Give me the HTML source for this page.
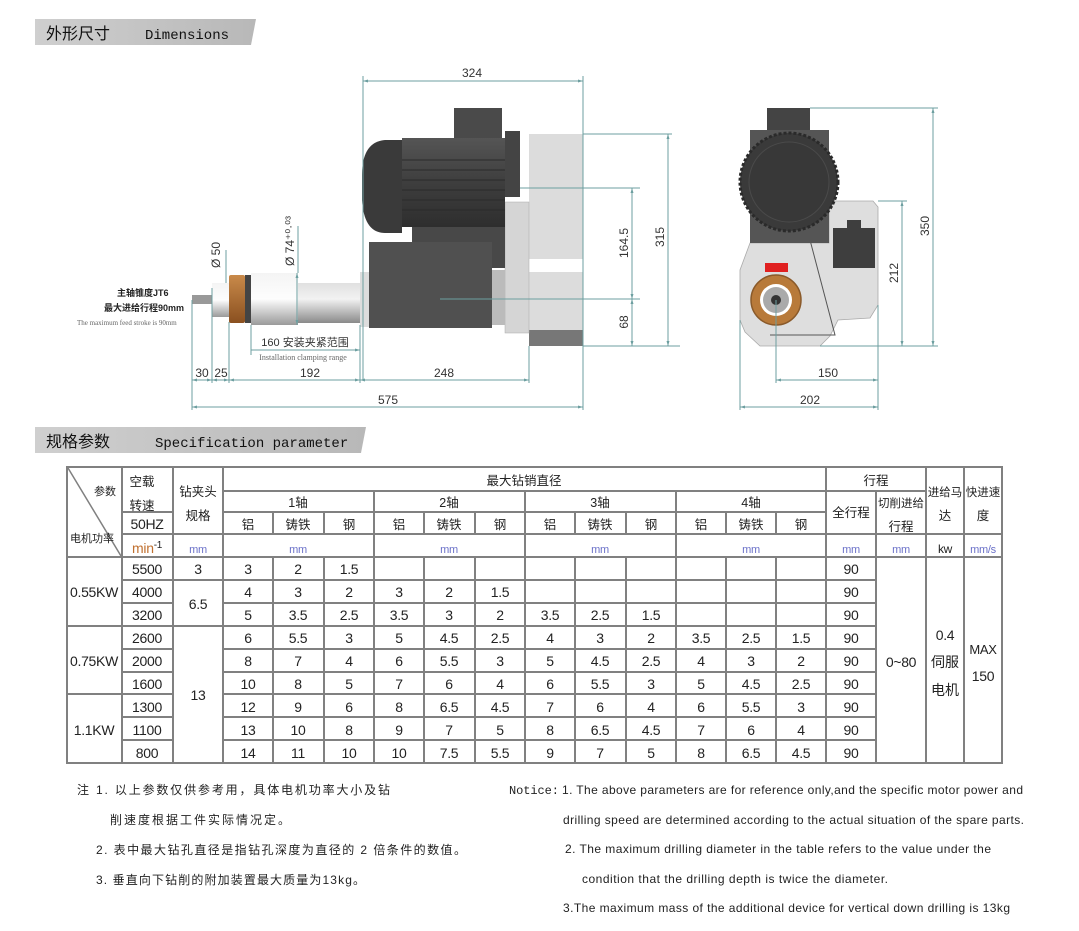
<!DOCTYPE html>
<html><head><meta charset="utf-8">
<style>
html,body{margin:0;padding:0;background:#fff;}
svg{display:block;}
.t{font-family:"Liberation Sans Narrow","Liberation Sans","Noto Sans CJK SC",sans-serif;font-size:14px;fill:#222;text-anchor:middle;letter-spacing:-0.3px;}
.h{font-family:"Liberation Sans","Noto Sans CJK SC",sans-serif;font-size:12.5px;fill:#222;text-anchor:middle;}
.d{font-family:"Liberation Sans Narrow","Liberation Sans",sans-serif;font-size:12px;fill:#333;text-anchor:middle;}
.n{font-family:"Liberation Sans","Noto Sans CJK SC",sans-serif;font-size:12px;fill:#222;}
.u{fill:#6a70c8;}
.dim{stroke:#6d9fa0;stroke-width:1;fill:none;}
.g{stroke:#808080;stroke-width:2;}
</style></head><body>
<svg width="1079" height="931" viewBox="0 0 1079 931" xmlns="http://www.w3.org/2000/svg">
<defs>
<linearGradient id="ban" x1="0" x2="1"><stop offset="0" stop-color="#cfcfcf"/><stop offset="1" stop-color="#b8b8b8"/></linearGradient>
<linearGradient id="cyl" x1="0" x2="0" y1="0" y2="1"><stop offset="0" stop-color="#f4f4f4"/><stop offset="0.5" stop-color="#fdfdfd"/><stop offset="1" stop-color="#9a9a9a"/></linearGradient>
<linearGradient id="rod" x1="0" x2="0" y1="0" y2="1"><stop offset="0" stop-color="#e0e0e0"/><stop offset="0.4" stop-color="#f2f2f2"/><stop offset="1" stop-color="#8a8a8a"/></linearGradient>
<linearGradient id="mot" x1="0" x2="0" y1="0" y2="1"><stop offset="0" stop-color="#555"/><stop offset="0.5" stop-color="#3e3e3e"/><stop offset="1" stop-color="#2e2e2e"/></linearGradient>
<linearGradient id="org" x1="0" x2="0" y1="0" y2="1"><stop offset="0" stop-color="#c98a4a"/><stop offset="1" stop-color="#8a5020"/></linearGradient>
<marker id="a" viewBox="0 0 10 10" refX="10" refY="5" markerWidth="7" markerHeight="5" orient="auto-start-reverse"><path d="M0,2 L10,5 L0,8z" fill="#6d9fa0"/></marker>
</defs>

<polygon points="35,19 256,19 251,45 35,45" fill="url(#ban)"/>
<text x="46" y="39" class="n" style="font-size:16px;fill:#111">外形尺寸</text>
<text x="145" y="39" class="n" style="font-family:'Liberation Mono',monospace;font-size:14px;fill:#111">Dimensions</text>
<polygon points="35,427 366,427 361,453 35,453" fill="url(#ban)"/>
<text x="46" y="447" class="n" style="font-size:16px;fill:#111">规格参数</text>
<text x="155" y="447" class="n" style="font-family:'Liberation Mono',monospace;font-size:14px;fill:#111">Specification parameter</text>

<rect x="529" y="134" width="54" height="212" fill="#dcdcdc"/>
<rect x="529" y="330" width="54" height="16" fill="#777"/>
<rect x="529" y="259" width="54" height="13" fill="#fff"/>
<rect x="505" y="202" width="24" height="131" fill="#d5d5d5" stroke="#aaa" stroke-width="0.5"/>
<rect x="505" y="131" width="15" height="66" fill="#444"/>
<rect x="454" y="108" width="48" height="32" fill="#4a4a4a"/>
<path d="M402,140 L385,140 Q362,142 362,175 L362,200 Q364,233 385,233 L402,233z" fill="#3a3a3a"/>
<rect x="402" y="138" width="103" height="89" fill="url(#mot)"/>
<g stroke="#2a2a2a" stroke-width="1"><line x1="402" y1="160" x2="505" y2="160"/><line x1="402" y1="170" x2="505" y2="170"/><line x1="402" y1="180" x2="505" y2="180"/><line x1="402" y1="190" x2="505" y2="190"/><line x1="402" y1="200" x2="505" y2="200"/><line x1="402" y1="210" x2="505" y2="210"/></g>
<rect x="412" y="227" width="93" height="41" fill="#484848"/>
<rect x="369" y="242" width="123" height="86" fill="#505050"/>
<rect x="492" y="270" width="13" height="55" fill="#bbb"/>
<rect x="360" y="272" width="9" height="55" fill="#ddd"/>
<rect x="298" y="283" width="62" height="40" fill="url(#rod)"/>
<rect x="251" y="273" width="47" height="52" fill="url(#cyl)"/>
<rect x="245" y="275" width="6" height="48" fill="#444"/>
<rect x="229" y="275" width="16" height="48" rx="2" fill="url(#org)"/>
<rect x="212" y="283" width="17" height="34" fill="url(#cyl)"/>
<rect x="192" y="295" width="20" height="9" fill="#999"/>

<line class="dim" x1="363" y1="81" x2="583" y2="81" marker-start="url(#a)" marker-end="url(#a)"/>
<text x="472" y="77" class="d">324</text>
<line class="dim" x1="363" y1="76" x2="363" y2="380"/>
<line class="dim" x1="583" y1="76" x2="583" y2="410"/>
<line class="dim" x1="192" y1="300" x2="192" y2="410"/>
<line class="dim" x1="212" y1="288" x2="212" y2="383"/>
<line class="dim" x1="229" y1="322" x2="229" y2="383"/>
<line class="dim" x1="251" y1="325" x2="251" y2="355"/>
<line class="dim" x1="360" y1="325" x2="360" y2="383"/>
<line class="dim" x1="529" y1="346" x2="529" y2="383"/>
<line class="dim" x1="192" y1="380" x2="212" y2="380" marker-start="url(#a)" marker-end="url(#a)"/>
<line class="dim" x1="212" y1="380" x2="229" y2="380" marker-start="url(#a)" marker-end="url(#a)"/>
<line class="dim" x1="229" y1="380" x2="360" y2="380" marker-start="url(#a)" marker-end="url(#a)"/>
<line class="dim" x1="360" y1="380" x2="529" y2="380" marker-start="url(#a)" marker-end="url(#a)"/>
<line class="dim" x1="192" y1="407" x2="583" y2="407" marker-start="url(#a)" marker-end="url(#a)"/>
<text x="202" y="377" class="d">30</text><text x="221" y="377" class="d">25</text>
<text x="310" y="377" class="d">192</text><text x="444" y="377" class="d">248</text>
<text x="388" y="404" class="d">575</text>
<line class="dim" x1="251" y1="350" x2="360" y2="350" marker-end="url(#a)"/>
<text x="305" y="346" class="d" style="font-size:11px">160 安装夹紧范围</text>
<text x="303" y="360" class="d" style="font-size:8px;fill:#666;font-family:'Liberation Serif',serif">Installation clamping range</text>
<line class="dim" x1="297" y1="273" x2="297" y2="325" marker-start="url(#a)" marker-end="url(#a)"/>
<line class="dim" x1="298" y1="226" x2="298" y2="273"/>
<line class="dim" x1="226" y1="250" x2="226" y2="283"/>
<text transform="translate(220,268) rotate(-90)" class="d" style="text-anchor:start">Ø 50</text>
<text transform="translate(294,266) rotate(-90)" class="d" style="text-anchor:start">Ø 74⁺⁰·⁰³</text>
<text x="117" y="296" class="n" style="font-size:9px;font-weight:bold">主轴锥度JT6</text>
<text x="104" y="311" class="n" style="font-size:9px;font-weight:bold">最大进给行程90mm</text>
<text x="77" y="325" class="n" style="font-size:7px;fill:#666;font-family:'Liberation Serif',serif">The maximum feed stroke is 90mm</text>
<line class="dim" x1="520" y1="188" x2="640" y2="188"/>
<line class="dim" x1="440" y1="299" x2="640" y2="299"/>
<line class="dim" x1="583" y1="346" x2="680" y2="346"/>
<line class="dim" x1="583" y1="134" x2="672" y2="134"/>
<line class="dim" x1="632" y1="188" x2="632" y2="299" marker-start="url(#a)" marker-end="url(#a)"/>
<line class="dim" x1="632" y1="299" x2="632" y2="346" marker-start="url(#a)" marker-end="url(#a)"/>
<line class="dim" x1="668" y1="134" x2="668" y2="346" marker-start="url(#a)" marker-end="url(#a)"/>
<text transform="translate(628,243) rotate(-90)" class="d">164.5</text>
<text transform="translate(628,322) rotate(-90)" class="d">68</text>
<text transform="translate(664,237) rotate(-90)" class="d">315</text>

<path d="M829,201 L873,201 L878,207 L878,305 L870,318 L838,320 L830,336 L820,346 L760,346 L745,332 L740,320 L740,270 L750,243 L829,243z" fill="#dedede" stroke="#aaa" stroke-width="0.8"/>
<rect x="767" y="108" width="43" height="30" fill="#444"/>
<rect x="750" y="130" width="79" height="113" fill="#555"/>
<circle cx="789" cy="182" r="49" fill="#3a3a3a" stroke="#2a2a2a" stroke-width="3" stroke-dasharray="3 2"/>
<circle cx="789" cy="182" r="40" fill="#383838" stroke="#4a4a4a" stroke-width="1"/>
<rect x="833" y="228" width="42" height="40" fill="#3e3e3e"/>
<rect x="847" y="220" width="14" height="9" fill="#3e3e3e"/>
<path d="M810,240 L835,335 L770,335" stroke="#555" stroke-width="1" fill="none"/>
<rect x="765" y="263" width="23" height="9" fill="#e02020"/>
<circle cx="776" cy="300" r="25" fill="#b87a3a" stroke="#8a5a2a" stroke-width="1.5"/>
<circle cx="776" cy="300" r="16" fill="#fff"/>
<circle cx="776" cy="300" r="13" fill="#aaa"/>
<circle cx="776" cy="300" r="5" fill="#333"/>
<line class="dim" x1="810" y1="108" x2="938" y2="108"/>
<line class="dim" x1="878" y1="201" x2="907" y2="201"/>
<line class="dim" x1="820" y1="346" x2="938" y2="346"/>
<line class="dim" x1="933" y1="108" x2="933" y2="346" marker-start="url(#a)" marker-end="url(#a)"/>
<line class="dim" x1="902" y1="201" x2="902" y2="346" marker-start="url(#a)" marker-end="url(#a)"/>
<text transform="translate(929,226) rotate(-90)" class="d">350</text>
<text transform="translate(898,273) rotate(-90)" class="d">212</text>
<line class="dim" x1="740" y1="320" x2="740" y2="410"/>
<line class="dim" x1="776" y1="300" x2="776" y2="383"/>
<line class="dim" x1="878" y1="305" x2="878" y2="410"/>
<line class="dim" x1="776" y1="380" x2="878" y2="380" marker-start="url(#a)" marker-end="url(#a)"/>
<line class="dim" x1="740" y1="407" x2="878" y2="407" marker-start="url(#a)" marker-end="url(#a)"/>
<text x="828" y="377" class="d">150</text>
<text x="810" y="404" class="d">202</text>

<g class="g">
<line x1="66" y1="467" x2="1003" y2="467"/>
<line x1="66" y1="763" x2="1003" y2="763"/>
<line x1="66" y1="557" x2="1003" y2="557"/>
<line x1="223" y1="491" x2="926" y2="491"/>
<line x1="122" y1="512" x2="173" y2="512"/>
<line x1="223" y1="512" x2="826" y2="512"/>
<line x1="122" y1="534" x2="1002" y2="534"/>
<line x1="67" y1="467" x2="67" y2="763"/>
<line x1="122" y1="467" x2="122" y2="763"/>
<line x1="173" y1="467" x2="173" y2="763"/>
<line x1="223" y1="467" x2="223" y2="763"/>
<line x1="826" y1="467" x2="826" y2="763"/>
<line x1="926" y1="467" x2="926" y2="763"/>
<line x1="964" y1="467" x2="964" y2="763"/>
<line x1="1002" y1="467" x2="1002" y2="763"/>
<line x1="876" y1="491" x2="876" y2="763"/>
<line x1="374" y1="491" x2="374" y2="763"/>
<line x1="525" y1="491" x2="525" y2="763"/>
<line x1="676" y1="491" x2="676" y2="763"/>
</g>
<g class="g">
<path d="M273,512V534M324,512V534M424,512V534M475,512V534M575,512V534M626,512V534M726,512V534M776,512V534"/>
<path d="M273,557V763M324,557V763M424,557V763M475,557V763M575,557V763M626,557V763M726,557V763M776,557V763"/>
<path d="M122,580H173M223,580H876M122,603H173M223,603H876M122,626H876M67,626H122M122,649H173M223,649H876M122,672H173M223,672H876M67,694H173M223,694H876M122,717H173M223,717H876M122,740H173M223,740H876M173,580H223"/>
</g>
<line x1="68" y1="468" x2="121" y2="556" stroke="#808080" stroke-width="1.5"/>

<text x="105" y="495" class="h" style="font-size:11px">参数</text>
<text x="92" y="542" class="h" style="font-size:11px">电机功率</text>
<text x="142" y="486" class="h">空载</text>
<text x="142" y="510" class="h">转速</text>
<text x="147" y="529" class="t">50HZ</text>
<text x="147" y="553" class="t" style="fill:#c07030">min<tspan dy="-5" style="font-size:10px;fill:#222">-1</tspan></text>
<text x="198" y="496" class="h">钻夹头</text>
<text x="198" y="520" class="h">规格</text>
<text x="198" y="553" class="t u" style="font-size:11px">mm</text>
<text x="524" y="485" class="h">最大钻销直径</text>
<text x="298" y="507" class="h">1轴</text><text x="449" y="507" class="h">2轴</text><text x="600" y="507" class="h">3轴</text><text x="751" y="507" class="h">4轴</text>
<g class="h">
<text x="248" y="529">铝</text><text x="298" y="529">铸铁</text><text x="349" y="529">钢</text>
<text x="399" y="529">铝</text><text x="449" y="529">铸铁</text><text x="500" y="529">钢</text>
<text x="550" y="529">铝</text><text x="600" y="529">铸铁</text><text x="651" y="529">钢</text>
<text x="701" y="529">铝</text><text x="751" y="529">铸铁</text><text x="801" y="529">钢</text>
</g>
<g class="t u" style="font-size:11px">
<text x="298" y="553">mm</text><text x="449" y="553">mm</text><text x="600" y="553">mm</text><text x="751" y="553">mm</text>
<text x="851" y="553">mm</text><text x="901" y="553">mm</text><text x="983" y="553">mm/s</text>
</g>
<text x="945" y="553" class="t" style="font-size:12px">kw</text>
<text x="876" y="485" class="h">行程</text>
<text x="851" y="517" class="h">全行程</text>
<text x="901" y="507" class="h" style="font-size:11.5px">切削进给</text>
<text x="901" y="531" class="h">行程</text>
<text x="945" y="496" class="h" style="font-size:11.5px">进给马</text>
<text x="945" y="520" class="h">达</text>
<text x="983" y="496" class="h" style="font-size:11.5px">快进速</text>
<text x="983" y="520" class="h">度</text>

<g class="t">
<text x="94" y="597">0.55KW</text><text x="94" y="666">0.75KW</text><text x="94" y="735">1.1KW</text>
<text x="147" y="574">5500</text><text x="147" y="597">4000</text><text x="147" y="620">3200</text>
<text x="147" y="643">2600</text><text x="147" y="666">2000</text><text x="147" y="689">1600</text>
<text x="147" y="712">1300</text><text x="147" y="735">1100</text><text x="147" y="758">800</text>
<text x="198" y="574">3</text><text x="198" y="609">6.5</text><text x="198" y="700">13</text>
<text x="248" y="574">3</text><text x="298" y="574">2</text><text x="349" y="574">1.5</text>
<text x="248" y="597">4</text><text x="298" y="597">3</text><text x="349" y="597">2</text>
<text x="399" y="597">3</text><text x="449" y="597">2</text><text x="500" y="597">1.5</text>
<text x="248" y="620">5</text><text x="298" y="620">3.5</text><text x="349" y="620">2.5</text>
<text x="399" y="620">3.5</text><text x="449" y="620">3</text><text x="500" y="620">2</text>
<text x="550" y="620">3.5</text><text x="600" y="620">2.5</text><text x="651" y="620">1.5</text>
<text x="248" y="643">6</text><text x="298" y="643">5.5</text><text x="349" y="643">3</text>
<text x="399" y="643">5</text><text x="449" y="643">4.5</text><text x="500" y="643">2.5</text>
<text x="550" y="643">4</text><text x="600" y="643">3</text><text x="651" y="643">2</text>
<text x="701" y="643">3.5</text><text x="751" y="643">2.5</text><text x="801" y="643">1.5</text>
<text x="248" y="666">8</text><text x="298" y="666">7</text><text x="349" y="666">4</text>
<text x="399" y="666">6</text><text x="449" y="666">5.5</text><text x="500" y="666">3</text>
<text x="550" y="666">5</text><text x="600" y="666">4.5</text><text x="651" y="666">2.5</text>
<text x="701" y="666">4</text><text x="751" y="666">3</text><text x="801" y="666">2</text>
<text x="248" y="689">10</text><text x="298" y="689">8</text><text x="349" y="689">5</text>
<text x="399" y="689">7</text><text x="449" y="689">6</text><text x="500" y="689">4</text>
<text x="550" y="689">6</text><text x="600" y="689">5.5</text><text x="651" y="689">3</text>
<text x="701" y="689">5</text><text x="751" y="689">4.5</text><text x="801" y="689">2.5</text>
<text x="248" y="712">12</text><text x="298" y="712">9</text><text x="349" y="712">6</text>
<text x="399" y="712">8</text><text x="449" y="712">6.5</text><text x="500" y="712">4.5</text>
<text x="550" y="712">7</text><text x="600" y="712">6</text><text x="651" y="712">4</text>
<text x="701" y="712">6</text><text x="751" y="712">5.5</text><text x="801" y="712">3</text>
<text x="248" y="735">13</text><text x="298" y="735">10</text><text x="349" y="735">8</text>
<text x="399" y="735">9</text><text x="449" y="735">7</text><text x="500" y="735">5</text>
<text x="550" y="735">8</text><text x="600" y="735">6.5</text><text x="651" y="735">4.5</text>
<text x="701" y="735">7</text><text x="751" y="735">6</text><text x="801" y="735">4</text>
<text x="248" y="758">14</text><text x="298" y="758">11</text><text x="349" y="758">10</text>
<text x="399" y="758">10</text><text x="449" y="758">7.5</text><text x="500" y="758">5.5</text>
<text x="550" y="758">9</text><text x="600" y="758">7</text><text x="651" y="758">5</text>
<text x="701" y="758">8</text><text x="751" y="758">6.5</text><text x="801" y="758">4.5</text>
<text x="851" y="574">90</text><text x="851" y="597">90</text><text x="851" y="620">90</text>
<text x="851" y="643">90</text><text x="851" y="666">90</text><text x="851" y="689">90</text>
<text x="851" y="712">90</text><text x="851" y="735">90</text><text x="851" y="758">90</text>
<text x="901" y="667">0~80</text>
<text x="945" y="640">0.4</text>
<text x="983" y="654" style="font-size:13px">MAX</text>
<text x="983" y="681">150</text>
</g>
<text x="945" y="667" class="h" style="font-size:14px">伺服</text>
<text x="945" y="695" class="h" style="font-size:14px">电机</text>

<text x="77" y="794" class="n" textLength="313">注 1. 以上参数仅供参考用，具体电机功率大小及钻</text>
<text x="110" y="824" class="n" textLength="180">削速度根据工件实际情况定。</text>
<text x="96" y="854" class="n" textLength="370">2. 表中最大钻孔直径是指钻孔深度为直径的 2 倍条件的数值。</text>
<text x="96" y="884" class="n" textLength="269">3. 垂直向下钻削的附加装置最大质量为13kg。</text>
<text x="509" y="794" class="n" style="font-family:'Liberation Mono',monospace" textLength="50">Notice:</text>
<text x="562" y="794" class="n" textLength="461">1. The above parameters are for reference only,and the specific motor power and</text>
<text x="563" y="824" class="n" textLength="461">drilling speed are determined according to the actual situation of the spare parts.</text>
<text x="565" y="853" class="n" textLength="426">2. The maximum drilling diameter in the table refers to the value under the</text>
<text x="582" y="883" class="n" textLength="306">condition that the drilling depth is twice the diameter.</text>
<text x="563" y="912" class="n" textLength="447">3.The maximum mass of the additional device for vertical down drilling is 13kg</text>
</svg>
</body></html>
